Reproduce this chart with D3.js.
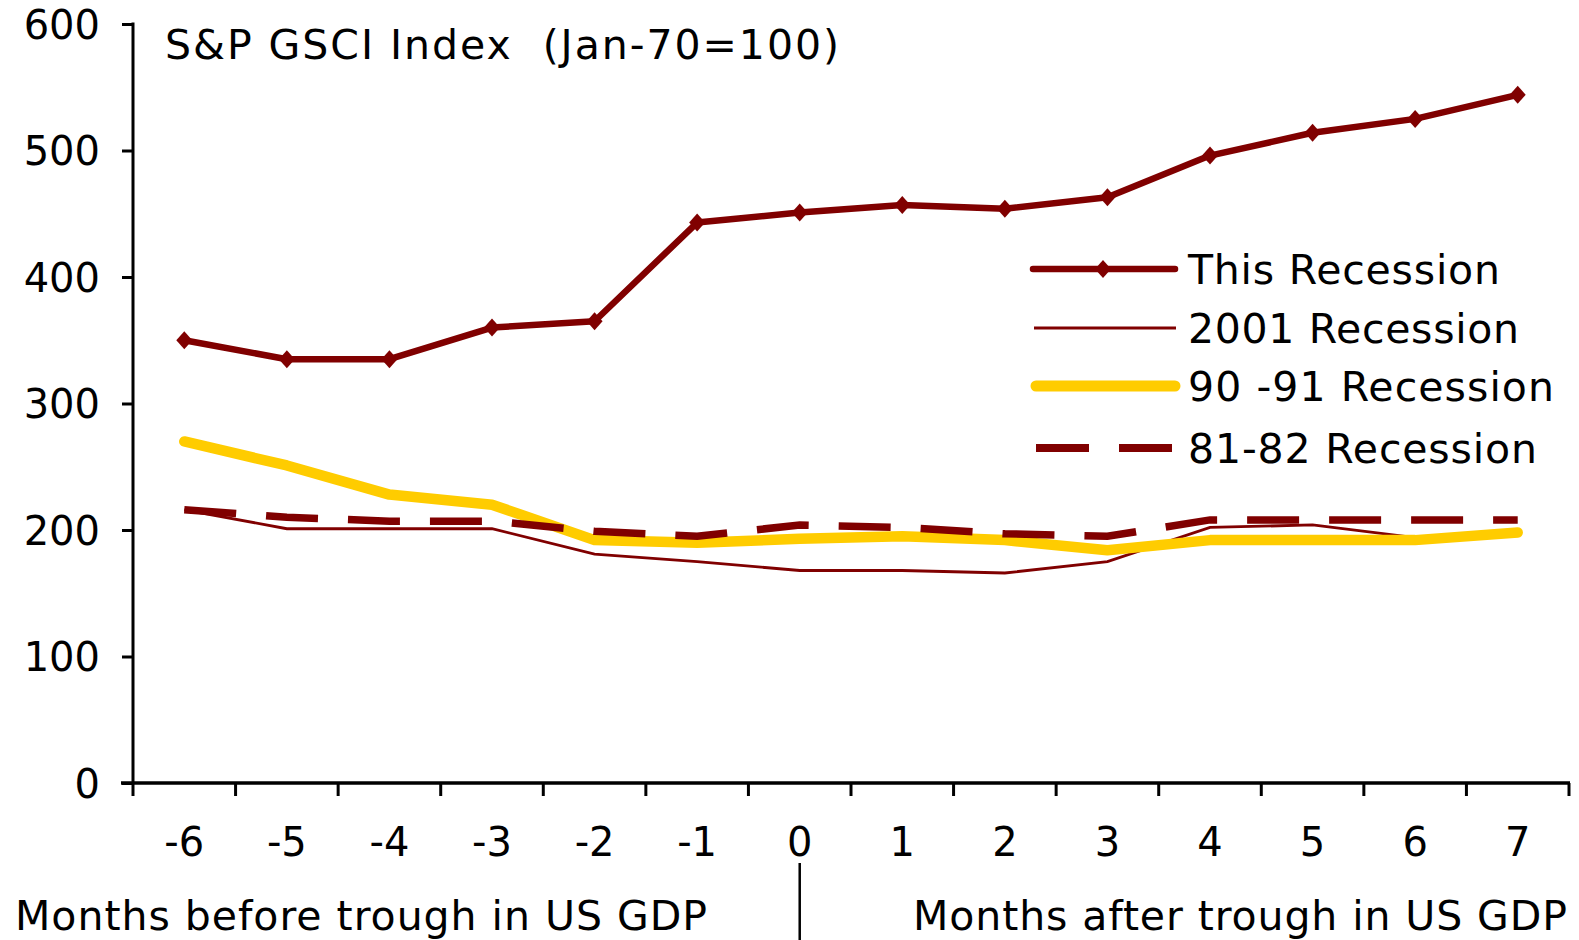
<!DOCTYPE html>
<html><head><meta charset="utf-8">
<script src="https://cdn.jsdelivr.net/npm/d3@7"></script>
<style>
html,body{margin:0;padding:0;background:#fff;}
text{font-family:"DejaVu Sans",Verdana,sans-serif;fill:#000;}
</style></head>
<body><svg id="c" width="1579" height="940"></svg>
<script>
const months = [-6,-5,-4,-3,-2,-1,0,1,2,3,4,5,6,7];
const thisRecession = [350,335,335,360,365,443,451,457,454,463,496,514,525,544];
const rec2001 = [216,201,201,201,181,175,168,168,166,175,202,204,194,198];
const rec9091 = [270,251,228,220,192,190,193,195,192,184,192,192,192,198];
const rec8182 = [216,210,207,207,199,195,204,202,197,195,208,208,208,208];
const yTicks = [0,100,200,300,400,500,600];
const titleText = "S&P GSCI Index  (Jan-70=100)";
const legendLabels = ["This Recession","2001 Recession","90 -91 Recession","81-82 Recession"];
const leftLabel = "Months before trough in US GDP";
const rightLabel = "Months after trough in US GDP";

const RED = "#800000", YEL = "#FFCC00";
const svg = d3.select("#c");
const x = d3.scaleBand().domain(months).range([133,1569]).padding(0);
const y = d3.scaleLinear().domain([0,600]).range([783,24]);
const cx = d => x(d) + x.bandwidth()/2;

// y axis
const ya = svg.append("g").attr("transform","translate(133,0)")
  .call(d3.axisLeft(y).tickValues(yTicks).tickSize(11).tickPadding(22).tickFormat(d3.format("d")));
ya.select(".domain").remove();
ya.selectAll(".tick line").attr("stroke","#000").attr("stroke-width",3);
ya.selectAll(".tick text").style("font-size","40px").attr("dy","0.36em");
svg.append("line").attr("x1",133).attr("x2",133).attr("y1",y(600)-1.5).attr("y2",y(0))
  .attr("stroke","#000").attr("stroke-width",3);

// x axis
svg.append("line").attr("x1",133-12).attr("x2",1569+1).attr("y1",y(0)).attr("y2",y(0))
  .attr("stroke","#000").attr("stroke-width",3.5);
const bounds = months.map(d=>x(d)).concat([x.range()[1]]);
svg.selectAll(".xt").data(bounds).enter().append("line")
  .attr("x1",d=>d).attr("x2",d=>d).attr("y1",y(0)).attr("y2",y(0)+13)
  .attr("stroke","#000").attr("stroke-width",3);
svg.selectAll(".xl").data(months).enter().append("text")
  .attr("x",d=>cx(d)).attr("y",856).attr("text-anchor","middle")
  .style("font-size","40px").text(d=>d);

// lines
const line = vals => d3.line().x((d,i)=>cx(months[i])).y(d=>y(d))(vals);
svg.append("path").attr("d",line(rec2001)).attr("fill","none").attr("stroke",RED).attr("stroke-width",2.8);
svg.append("path").attr("d",line(rec9091)).attr("fill","none").attr("stroke",YEL).attr("stroke-width",10.5)
  .attr("stroke-linecap","round").attr("stroke-linejoin","round");
svg.append("path").attr("d",line(rec8182)).attr("fill","none").attr("stroke",RED).attr("stroke-width",7.5)
  .attr("stroke-dasharray","52,30");
svg.append("path").attr("d",line(thisRecession)).attr("fill","none").attr("stroke",RED).attr("stroke-width",6.5)
  .attr("stroke-linejoin","round");
const diamond = "M0,-9L8,0L0,9L-8,0Z";
svg.selectAll(".mk").data(thisRecession).enter().append("path")
  .attr("d",diamond).attr("fill",RED)
  .attr("transform",(d,i)=>`translate(${cx(months[i])},${y(d)})`);

// legend
const lg = svg.append("g");
const rowY = [269,328,386,448];
lg.append("line").attr("x1",1033).attr("x2",1175).attr("y1",rowY[0]).attr("y2",rowY[0])
  .attr("stroke",RED).attr("stroke-width",6.5).attr("stroke-linecap","round");
lg.append("path").attr("d",diamond).attr("fill",RED).attr("transform",`translate(1103,${rowY[0]})`);
lg.append("line").attr("x1",1034).attr("x2",1176).attr("y1",rowY[1]).attr("y2",rowY[1])
  .attr("stroke",RED).attr("stroke-width",2.8);
lg.append("line").attr("x1",1036).attr("x2",1175).attr("y1",rowY[2]).attr("y2",rowY[2])
  .attr("stroke",YEL).attr("stroke-width",11).attr("stroke-linecap","round");
lg.append("line").attr("x1",1036).attr("x2",1172).attr("y1",rowY[3]).attr("y2",rowY[3])
  .attr("stroke",RED).attr("stroke-width",8).attr("stroke-dasharray","53,30");
const lgW = [312,331,366,349];
lg.selectAll(".lt").data(legendLabels).enter().append("text")
  .attr("x",1188).attr("y",(d,i)=>rowY[i]+15)
  .attr("textLength",(d,i)=>lgW[i]).attr("lengthAdjust","spacing")
  .style("font-size","41px").text(d=>d);

// title
svg.append("text").attr("x",165).attr("y",59).attr("xml:space","preserve")
  .style("white-space","pre").attr("textLength",674).attr("lengthAdjust","spacing")
  .style("font-size","41px").text(titleText);

// bottom labels
svg.append("text").attr("x",15).attr("y",930).attr("textLength",692).attr("lengthAdjust","spacing")
  .style("font-size","41px").text(leftLabel);
svg.append("text").attr("x",913).attr("y",930).attr("textLength",654).attr("lengthAdjust","spacing")
  .style("font-size","41px").text(rightLabel);
svg.append("line").attr("x1",cx(0)).attr("x2",cx(0)).attr("y1",863).attr("y2",940)
  .attr("stroke","#000").attr("stroke-width",2.5);
</script></body></html>
